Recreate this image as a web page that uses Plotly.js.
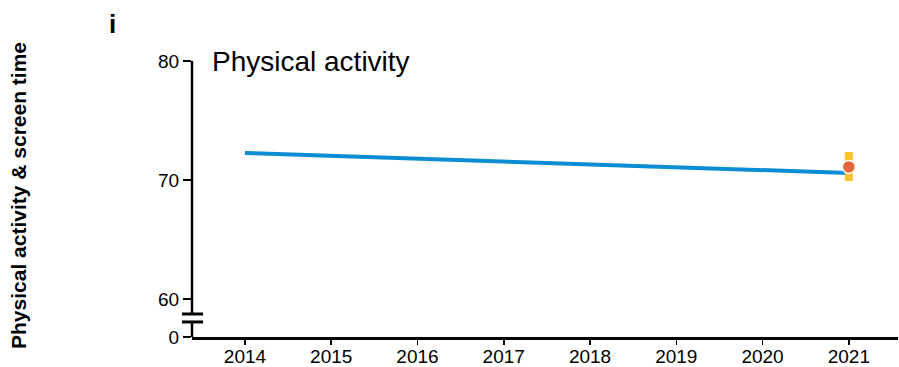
<!DOCTYPE html>
<html><head><meta charset="utf-8">
<script src="https://cdn.plot.ly/plotly-3.0.1.min.js"></script>
<style>body{margin:0;background:#fff}#c{width:899px;height:367px}</style>
</head><body><div id="c"></div>
<script>
const years = [2014, 2021];
const trend = [72.27, 70.59];
const obsYear = [2021];
const obsValue = [71.1];
const obsUpper = [72.35];
const obsLower = [69.92];
const yTickVals = [56.807, 60, 70, 80];
const yTickText = ['0', '60', '70', '80'];
const xTickVals = [2014, 2015, 2016, 2017, 2018, 2019, 2020, 2021];

const traces = [
  {x: years, y: trend, mode: 'lines', line: {color: '#0a8dd4', width: 4}, hoverinfo: 'skip'},
  {x: obsYear, y: obsValue, mode: 'markers',
   marker: {size: 13, color: '#e0693a', line: {color: '#ffffff', width: 1.5}},
   error_y: {type: 'data', symmetric: false,
     array: obsUpper.map((u, i) => u - obsValue[i]),
     arrayminus: obsLower.map((l, i) => obsValue[i] - l),
     color: '#f9c22e', thickness: 8, width: 0}}
];
const brk = (y) => ({type: 'line', xref: 'paper', yref: 'y', x0: -0.0142, x1: 0.0156, y0: y, y1: y, line: {color: '#000', width: 3}});
const layout = {
  width: 899, height: 367, showlegend: false,
  paper_bgcolor: '#fff', plot_bgcolor: '#fff',
  margin: {l: 192, r: 1, t: 61, b: 30},
  font: {family: 'Liberation Sans, Arial, sans-serif', size: 19, color: '#000'},
  xaxis: {range: [2013.386, 2021.57], tickvals: xTickVals, showgrid: false, zeroline: false,
    showline: true, linecolor: '#000', linewidth: 2.5, ticks: 'outside', ticklen: 5, tickwidth: 1.5, tickcolor: '#000',
    ticklabelstandoff: -4, tickfont: {size: 19}},
  yaxis: {range: [56.807, 80], tickvals: yTickVals, ticktext: yTickText, showgrid: false, zeroline: false,
    showline: false, ticks: 'outside', ticklen: 8, tickwidth: 1.5, tickcolor: '#000', tickfont: {size: 19}},
  shapes: [
    {type: 'line', xref: 'paper', yref: 'y', x0: 0, x1: 0, y0: 80, y1: 58.74, line: {color: '#000', width: 2.5}},
    {type: 'line', xref: 'paper', yref: 'y', x0: 0, x1: 0, y0: 58.07, y1: 56.807, line: {color: '#000', width: 2.5}},
    brk(58.74), brk(58.07)
  ],
  annotations: [
    {text: 'Physical activity', xref: 'paper', yref: 'paper', x: 0.026, y: 1.0, xanchor: 'left', yanchor: 'middle',
     showarrow: false, font: {size: 28}},
    {text: '<b>i</b>', xref: 'paper', yref: 'paper', x: -0.113, y: 1.135, xanchor: 'center', yanchor: 'middle',
     showarrow: false, font: {size: 26}},
    {text: '<b>Physical activity &amp; screen time</b>', xref: 'paper', yref: 'paper', x: -0.245, y: 0.511,
     xanchor: 'center', yanchor: 'middle', textangle: -90, showarrow: false, font: {size: 21}}
  ]
};
Plotly.newPlot('c', traces, layout, {displayModeBar: false, staticPlot: true});
</script></body></html>
